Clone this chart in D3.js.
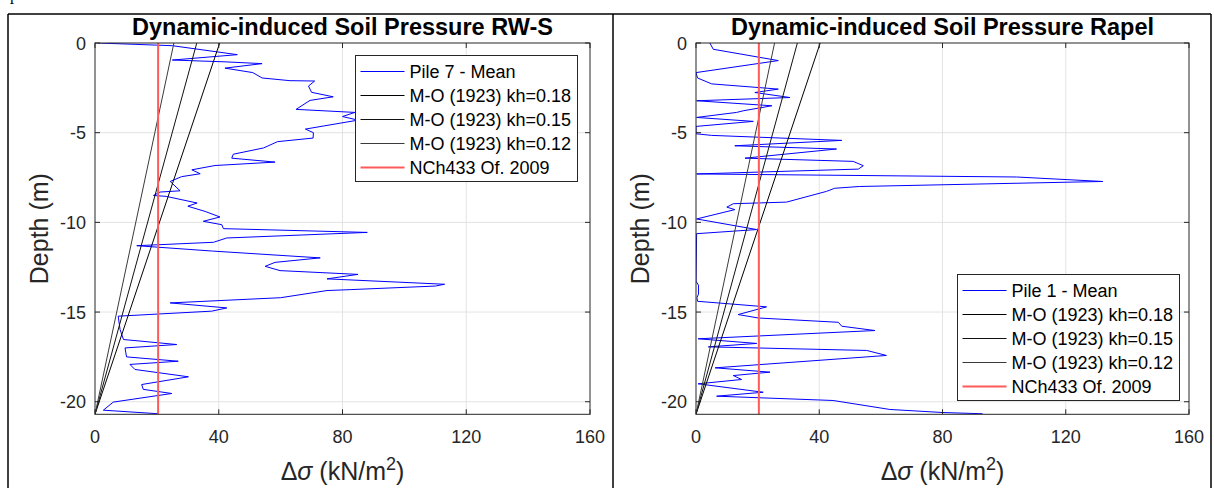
<!DOCTYPE html>
<html>
<head>
<meta charset="utf-8">
<script src="https://cdn.jsdelivr.net/npm/d3@7"></script>
<style>
  html, body { margin: 0; padding: 0; background: #fff; }
  svg { display: block; font-family: 'Liberation Sans', Arial, Helvetica, sans-serif; }
</style>
</head>
<body>
<div id="chart"></div>
<script>
// RW-S, pile 7 mean profile (depth m, delta sigma kN/m2)
const rwsDepth = [0, -0.15, -0.65, -0.95, -1.05, -1.15, -1.4, -1.65, -1.95, -2.1, -2.12, -2.4, -2.75, -3.0, -3.2,
  -3.7, -3.87, -4.1, -4.3, -4.8, -5.0, -5.3, -5.5, -5.85, -6.2, -6.42, -6.64, -6.83, -7.07, -7.29, -7.45,
  -7.72, -8.24, -8.31, -8.5, -8.55, -8.92, -9.1, -9.39, -9.7, -9.94, -10.13, -10.35, -10.56, -10.87, -11.11,
  -11.3, -11.6, -11.98, -12.23, -12.45, -12.69, -12.9, -13.15, -13.45, -13.55, -13.75, -13.8, -14.2, -14.49,
  -14.77, -14.95, -15.23, -15.97, -16.53, -16.81, -17.0, -17.5, -17.74, -17.92, -18.2, -18.61, -19.04, -19.31,
  -19.54, -20.02, -20.47, -20.67]
const rwsVal = [1, 25, 46, 25, 42, 54, 42, 51, 54, 63, 71, 69, 70, 77, 69.5,
  65, 84, 80, 85, 68, 70.6, 70.5, 59, 54.5, 44.7, 44.2, 58.2, 38.8, 31.3, 34, 28,
  24.3, 27.5, 21, 18.9, 23, 33, 30, 35.6, 40.4, 35, 41, 41.5, 88, 42.6, 38.3,
  13.5, 38, 72.8, 58.2, 55, 59.8, 85, 75, 113, 110, 82.5, 75, 60, 24.3,
  42.6, 37.7, 7.5, 8.1, 9.2, 26.4, 9.7, 10.2, 26.9, 11.3, 12.9, 30.2, 15.1, 15.6,
  24.8, 5.9, 2.7, 20.5]

// Rapel, pile 1 mean profile
const rapelDepth = [0, -0.35, -0.98, -1.65, -1.95, -2.28, -2.57, -2.76, -3.04, -3.22, -3.5, -3.78, -3.87, -4.15,
  -4.37, -4.65, -5.06, -5.15, -5.43, -5.73, -5.91, -6.42, -6.6, -6.84, -7.03, -7.3, -7.47, -7.72, -8.0, -8.1,
  -8.27, -8.87, -8.96, -9.15, -9.29, -9.81, -10.4, -10.63, -13.28, -13.5, -14.0, -14.2, -14.4, -14.71, -15.14,
  -15.33, -15.57, -15.79, -16.03, -16.49, -16.75, -16.94, -17.14, -17.42, -18.11, -18.35, -18.54, -18.76, -19.0,
  -19.47, -19.69, -19.93, -20.43, -20.6, -20.67]
const rapelVal = [4.5, 5.6, 26.7, 0, 0.5, 5.1, 26.7, 19.1, 30.5, 0.2, 24.6, 15.3, 13.2, 0.2,
  18.6, 0, 0, 5, 47.3, 12.6, 45.6, 15.9, 51, 54.3, 52.7, 0.2, 104, 132, 53, 45,
  42.4, 29.4, 12.1, 10, 12.6, 0.2, 19.7, 0.2, 0, 0.8, 0.8, 0.3, 0.5, 22.9, 13.7,
  20.2, 46.2, 47.3, 58.1, 0.7, 19.7, 4, 55.4, 61.8, 6.2, 24, 12.1, 14.8, 0.7,
  21.8, 6.7, 44.5, 62.9, 80, 93]

// Mononobe-Okabe triangles: value at surface, zero at wall base
const moLabels = ['M-O (1923) kh=0.18', 'M-O (1923) kh=0.15', 'M-O (1923) kh=0.12']
const moTop = [40.3, 32.9, 25.5]
const moColors = ['#000000', '#111111', '#3a3a3a']
const wallBase = -20.7
const nchValue = 20.4

const xTicks = [0, 40, 80, 120, 160]
const yTicks = [0, -5, -10, -15, -20]

const width = 1214
const height = 488

const svg = d3.select('#chart').append('svg')
  .attr('width', width)
  .attr('height', height)
  .attr('viewBox', [0, 0, width, height])

svg.append('rect').attr('width', width).attr('height', height).attr('fill', '#fff')

// table frame of the document the figure sits in (a line of page text is cut off above)
svg.append('text').attr('x', 10).attr('y', 0).attr('font-family', 'Liberation Serif, serif')
  .attr('font-size', 16).text('p')
const frame = svg.append('g').attr('stroke', '#000').attr('stroke-width', 1.5)
frame.append('line').attr('x1', 8).attr('x2', 1211).attr('y1', 14).attr('y2', 14)
;[8, 613, 1211].forEach((x) => {
  frame.append('line').attr('x1', x).attr('x2', x).attr('y1', 14).attr('y2', height)
})

const panels = [
  {
    left: 95, right: 590, title: 'Dynamic-induced Soil Pressure RW-S',
    depth: rwsDepth, vals: rwsVal, pile: 'Pile 7 - Mean',
    legend: { x: 355.5, y: 55.5 },
  },
  {
    left: 696, right: 1189, title: 'Dynamic-induced Soil Pressure Rapel',
    depth: rapelDepth, vals: rapelVal, pile: 'Pile 1 - Mean',
    legend: { x: 957.5, y: 274.5 },
  },
]

const axTop = 43
const axBottom = 414.3
const axisColor = '#262626'

panels.forEach((p) => {
  const x = d3.scaleLinear().domain([0, 160]).range([p.left, p.right])
  const y = d3.scaleLinear().domain([wallBase, 0]).range([axBottom, axTop])
  const g = svg.append('g')

  // grid
  g.append('g').selectAll('line').data(xTicks.slice(1, -1)).join('line')
    .attr('x1', (d) => x(d)).attr('x2', (d) => x(d))
    .attr('y1', axTop).attr('y2', axBottom)
    .attr('stroke', '#e3e3e3').attr('stroke-width', 1)
  g.append('g').selectAll('line').data(yTicks.slice(1)).join('line')
    .attr('x1', p.left).attr('x2', p.right)
    .attr('y1', (d) => y(d)).attr('y2', (d) => y(d))
    .attr('stroke', '#e3e3e3').attr('stroke-width', 1)

  const plot = g.append('g')
  const clipId = 'clip' + p.left
  svg.append('clipPath').attr('id', clipId).append('rect')
    .attr('x', p.left).attr('y', axTop).attr('width', p.right - p.left).attr('height', axBottom - axTop)
  plot.attr('clip-path', `url(#${clipId})`)

  const line = d3.line().x((d) => x(d[0])).y((d) => y(d[1]))

  // measured profile
  plot.append('path')
    .datum(p.vals.map((v, i) => [v, p.depth[i]]))
    .attr('d', line)
    .attr('fill', 'none').attr('stroke', '#0000ff').attr('stroke-width', 1)
    .attr('stroke-linejoin', 'round')

  // M-O lines
  moTop.forEach((v, i) => {
    plot.append('path')
      .datum([[v, 0], [0, wallBase]])
      .attr('d', line)
      .attr('fill', 'none').attr('stroke', moColors[i]).attr('stroke-width', 1)
  })

  // NCh433 constant
  plot.append('path')
    .datum([[nchValue, 0], [nchValue, wallBase]])
    .attr('d', line)
    .attr('fill', 'none').attr('stroke', '#ff5a5a').attr('stroke-width', 2)

  // box + inward ticks on all sides
  const axes = g.append('g').attr('stroke', axisColor).attr('stroke-width', 1).attr('fill', 'none')
  axes.append('rect').attr('x', p.left).attr('y', axTop)
    .attr('width', p.right - p.left).attr('height', axBottom - axTop)
  xTicks.forEach((t) => {
    axes.append('line').attr('x1', x(t)).attr('x2', x(t)).attr('y1', axBottom).attr('y2', axBottom - 5)
    axes.append('line').attr('x1', x(t)).attr('x2', x(t)).attr('y1', axTop).attr('y2', axTop + 5)
  })
  yTicks.forEach((t) => {
    axes.append('line').attr('x1', p.left).attr('x2', p.left + 5).attr('y1', y(t)).attr('y2', y(t))
    axes.append('line').attr('x1', p.right).attr('x2', p.right - 5).attr('y1', y(t)).attr('y2', y(t))
  })

  // tick labels
  g.append('g').selectAll('text').data(xTicks).join('text')
    .attr('x', (d) => x(d)).attr('y', axBottom + 29)
    .attr('text-anchor', 'middle').attr('font-size', 18).attr('fill', axisColor)
    .text((d) => d)
  g.append('g').selectAll('text').data(yTicks).join('text')
    .attr('x', p.left - 9).attr('y', (d) => y(d) + 6.5)
    .attr('text-anchor', 'end').attr('font-size', 18).attr('fill', axisColor)
    .text((d) => d)

  // axis labels
  const xl = g.append('text')
    .attr('x', (p.left + p.right) / 2).attr('y', 480)
    .attr('text-anchor', 'middle').attr('font-size', 25).attr('fill', axisColor)
  xl.append('tspan').text('Δ')
  xl.append('tspan').attr('font-style', 'italic').text('σ')
  xl.append('tspan').text(' (kN/m')
  xl.append('tspan').attr('font-size', 18).attr('dy', -10).text('2')
  xl.append('tspan').attr('dy', 10).text(')')

  g.append('text')
    .attr('transform', `translate(${p.left - 47},${(axTop + axBottom) / 2}) rotate(-90)`)
    .attr('text-anchor', 'middle').attr('font-size', 25).attr('fill', axisColor)
    .text('Depth (m)')

  g.append('text')
    .attr('x', (p.left + p.right) / 2).attr('y', 35)
    .attr('text-anchor', 'middle').attr('font-size', 23.5).attr('font-weight', 'bold')
    .attr('fill', '#000')
    .text(p.title)

  // legend
  const items = [
    { label: p.pile, color: '#0000ff', w: 1 },
    ...moLabels.map((l, i) => ({ label: l, color: moColors[i], w: 1 })),
    { label: 'NCh433 Of. 2009', color: '#ff5a5a', w: 2 },
  ]
  const lg = g.append('g').attr('transform', `translate(${p.legend.x},${p.legend.y})`)
  lg.append('rect').attr('width', 222).attr('height', 126)
    .attr('fill', '#fff').attr('stroke', axisColor).attr('stroke-width', 1)
  const row = lg.selectAll('g').data(items).join('g')
    .attr('transform', (d, i) => `translate(0,${16 + i * 24})`)
  row.append('line').attr('x1', 5).attr('x2', 49).attr('y1', 0).attr('y2', 0)
    .attr('stroke', (d) => d.color).attr('stroke-width', (d) => d.w)
  row.append('text').attr('x', 54).attr('y', 6.5)
    .attr('font-size', 18).attr('fill', '#000')
    .text((d) => d.label)
})
</script>
</body>
</html>
